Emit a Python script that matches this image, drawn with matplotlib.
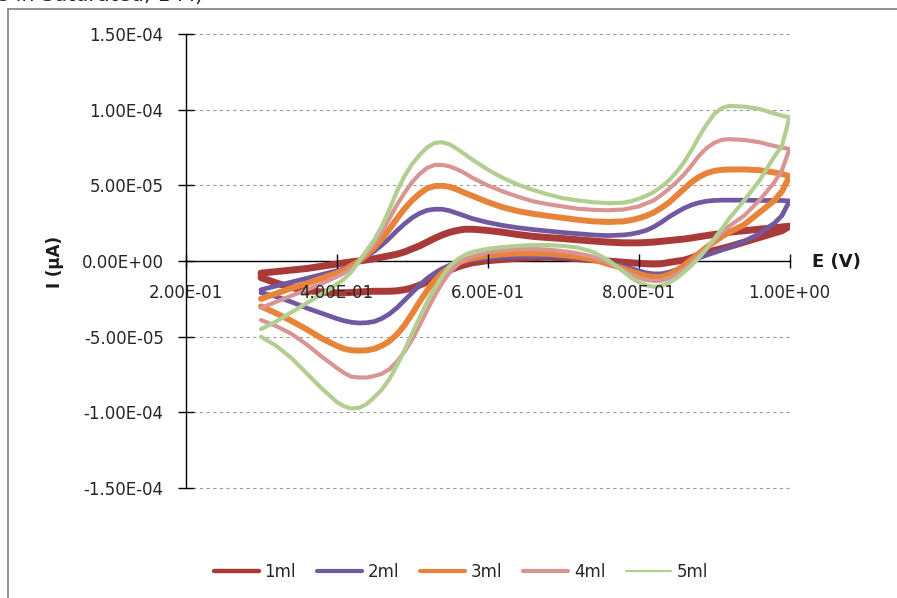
import matplotlib

matplotlib.use("Agg")
import matplotlib.pyplot as plt
from matplotlib.lines import Line2D
from matplotlib.patches import Rectangle
from matplotlib.ticker import FuncFormatter

# potential grid (V); forward scan runs left to right, reverse scan right to left
potential = [0.30, 0.32, 0.34, 0.36, 0.38, 0.40, 0.41, 0.42, 0.43, 0.44, 0.45,
             0.46, 0.47, 0.48, 0.49, 0.50, 0.51, 0.52, 0.53, 0.54, 0.55, 0.56,
             0.57, 0.58, 0.60, 0.62, 0.64, 0.66, 0.68, 0.70, 0.72, 0.74, 0.76,
             0.78, 0.79, 0.80, 0.81, 0.82, 0.83, 0.84, 0.85, 0.86, 0.87, 0.88,
             0.89, 0.90, 0.91, 0.92, 0.94, 0.96, 0.98, 0.99, 1.00]

# currents in units of 1e-5 A
fwd_1ml = [-0.8, -0.7, -0.6, -0.5, -0.35, -0.2, -0.12, -0.05, 0.0, 0.07, 0.15,
           0.25, 0.35, 0.45, 0.6, 0.8, 1.0, 1.25, 1.5, 1.72, 1.9, 2.02,
           2.1, 2.1, 2.02, 1.9, 1.75, 1.63, 1.55, 1.48, 1.4, 1.32, 1.25,
           1.2, 1.2, 1.2, 1.22, 1.25, 1.3, 1.35, 1.4, 1.45, 1.52, 1.6,
           1.68, 1.75, 1.82, 1.9, 2.0, 2.1, 2.2, 2.25, 2.3]
rev_1ml = [-1.1, -1.45, -1.75, -1.95, -2.05, -2.1, -2.1, -2.08, -2.05, -2.02, -2.0,
           -2.0, -2.0, -1.97, -1.9, -1.78, -1.6, -1.38, -1.12, -0.85, -0.6, -0.4,
           -0.25, -0.12, 0.02, 0.1, 0.18, 0.22, 0.25, 0.22, 0.15, 0.08, 0.0,
           -0.08, -0.12, -0.15, -0.18, -0.2, -0.18, -0.1, -0.02, 0.05, 0.2, 0.4,
           0.55, 0.7, 0.82, 0.95, 1.25, 1.55, 1.85, 2.0, 2.3]

fwd_2ml = [-1.9, -1.65, -1.4, -1.15, -0.9, -0.65, -0.5, -0.28, 0.0, 0.3, 0.65,
           1.05, 1.5, 2.0, 2.45, 2.85, 3.15, 3.35, 3.42, 3.42, 3.32, 3.15,
           2.98, 2.8, 2.55, 2.35, 2.2, 2.08, 1.98, 1.88, 1.8, 1.72, 1.68,
           1.72, 1.78, 1.88, 2.02, 2.25, 2.55, 2.9, 3.2, 3.48, 3.7, 3.85,
           3.95, 4.0, 4.02, 4.02, 4.02, 4.0, 4.0, 4.0, 3.97]
rev_2ml = [-2.1, -2.35, -2.7, -3.1, -3.45, -3.8, -3.95, -4.05, -4.1, -4.08, -4.0,
           -3.8, -3.5, -3.1, -2.6, -2.1, -1.6, -1.15, -0.8, -0.5, -0.28, -0.12,
           0.0, 0.08, 0.18, 0.25, 0.28, 0.3, 0.3, 0.27, 0.2, 0.08, -0.1,
           -0.35, -0.5, -0.65, -0.78, -0.85, -0.85, -0.75, -0.58, -0.35, -0.08, 0.2,
           0.38, 0.55, 0.72, 0.9, 1.3, 1.8, 2.5, 3.0, 3.97]

fwd_3ml = [-2.5, -2.15, -1.8, -1.5, -1.15, -0.8, -0.6, -0.3, 0.0, 0.4, 0.9,
           1.45, 2.1, 2.8, 3.45, 4.0, 4.45, 4.8, 4.95, 4.97, 4.9, 4.72,
           4.5, 4.3, 3.9, 3.55, 3.3, 3.12, 2.98, 2.85, 2.72, 2.62, 2.58,
           2.62, 2.7, 2.82, 2.98, 3.2, 3.5, 3.85, 4.3, 4.75, 5.2, 5.55,
           5.8, 5.95, 6.02, 6.05, 6.05, 6.0, 5.85, 5.75, 5.6]
rev_3ml = [-3.0, -3.45, -3.95, -4.5, -5.1, -5.6, -5.8, -5.9, -5.92, -5.9, -5.8,
           -5.6, -5.3, -4.85, -4.25, -3.5, -2.7, -1.95, -1.3, -0.8, -0.4, -0.12,
           0.05, 0.18, 0.35, 0.45, 0.5, 0.5, 0.48, 0.4, 0.28, 0.1, -0.2,
           -0.5, -0.68, -0.85, -0.98, -1.05, -1.05, -0.9, -0.65, -0.3, 0.1, 0.5,
           0.9, 1.25, 1.6, 1.9, 2.4, 3.2, 4.0, 4.6, 5.6]

fwd_4ml = [-3.1, -2.7, -2.3, -1.9, -1.5, -1.05, -0.8, -0.45, 0.0, 0.55, 1.15,
           1.9, 2.8, 3.7, 4.5, 5.2, 5.75, 6.15, 6.35, 6.35, 6.25, 6.05,
           5.8, 5.5, 5.0, 4.6, 4.25, 3.95, 3.75, 3.6, 3.45, 3.38, 3.35,
           3.4, 3.5, 3.6, 3.8, 4.0, 4.35, 4.75, 5.2, 5.7, 6.3, 6.95,
           7.45, 7.8, 8.0, 8.05, 8.0, 7.85, 7.6, 7.5, 7.4]
rev_4ml = [-3.9, -4.3, -4.8, -5.5, -6.3, -7.05, -7.4, -7.65, -7.7, -7.7, -7.6,
           -7.45, -7.15, -6.65, -6.0, -5.2, -4.25, -3.25, -2.3, -1.45, -0.75, -0.25,
           0.1, 0.3, 0.55, 0.7, 0.78, 0.8, 0.75, 0.65, 0.5, 0.28, -0.1,
           -0.6, -0.85, -1.1, -1.25, -1.32, -1.3, -1.15, -0.9, -0.55, -0.1, 0.35,
           0.85, 1.35, 1.85, 2.3, 3.0, 4.0, 5.2, 6.0, 7.4]

fwd_5ml = [-4.5, -4.0, -3.4, -2.8, -2.2, -1.55, -1.2, -0.7, 0.0, 0.7, 1.4,
           2.3, 3.4, 4.6, 5.6, 6.4, 7.0, 7.5, 7.8, 7.85, 7.7, 7.4,
           7.05, 6.7, 6.05, 5.5, 5.05, 4.7, 4.4, 4.15, 4.0, 3.88, 3.82,
           3.85, 3.95, 4.1, 4.3, 4.55, 4.9, 5.3, 5.85, 6.5, 7.3, 8.2,
           9.0, 9.7, 10.1, 10.25, 10.2, 10.05, 9.75, 9.6, 9.5]
rev_5ml = [-5.0, -5.6, -6.4, -7.4, -8.4, -9.3, -9.6, -9.75, -9.7, -9.45, -9.0,
           -8.5, -7.8, -6.9, -5.9, -4.8, -3.75, -2.7, -1.8, -1.0, -0.35, 0.1,
           0.4, 0.6, 0.8, 0.92, 1.0, 1.05, 1.05, 1.0, 0.88, 0.6, 0.05,
           -0.7, -1.1, -1.4, -1.6, -1.7, -1.65, -1.45, -1.15, -0.75, -0.3, 0.2,
           0.8, 1.45, 2.1, 2.8, 4.0, 5.3, 6.9, 7.6, 9.5]

series_names = ["1ml", "2ml", "3ml", "4ml", "5ml"]
forward = [fwd_1ml, fwd_2ml, fwd_3ml, fwd_4ml, fwd_5ml]
reverse = [rev_1ml, rev_2ml, rev_3ml, rev_4ml, rev_5ml]

y_ticks = [-1.5e-4, -1.0e-4, -5.0e-5, 0.0, 5.0e-5, 1.0e-4, 1.5e-4]
x_ticks = [0.2, 0.4, 0.6, 0.8, 1.0]

colors = ["#A83B39", "#7059A0", "#E8843A", "#D99594", "#B2CF91"]
line_widths = [5.0, 3.4, 4.3, 3.0, 3.0]
legend_widths = [3.2, 3.0, 3.0, 3.0, 1.6]

fig = plt.figure(figsize=(8.97, 5.98), dpi=100)
fig.patch.set_facecolor("white")

# chart-area border, cropped on the right and bottom
fig.patches.append(Rectangle((8 / 897, -0.05), 1.0, 1.05 - 9 / 598,
                             transform=fig.transFigure, fill=False,
                             edgecolor="#8a8a8a", linewidth=1.3))
# title fragment cut off by the top edge, as in the source screenshot
fig.text(-0.002, 1 - 1 / 598, "s in Saturated, 1 M)", fontsize=15,
         va="baseline", ha="left", color="#222222")

ax = fig.add_axes([185.5 / 897, 1 - 488 / 598, 604 / 897, 454 / 598])
ax.set_xlim(0.2, 1.0)
ax.set_ylim(-1.5e-4, 1.5e-4)

for name, fwd, rev, color, lw in zip(series_names, forward, reverse, colors, line_widths):
    xs = potential + potential[::-1]
    ys = [v * 1e-5 for v in fwd + rev[::-1]]
    ax.plot(xs, ys, color=color, linewidth=lw, solid_joinstyle="round",
            solid_capstyle="round", zorder=2.6)

ax.spines[["top", "right"]].set_visible(False)
ax.spines["bottom"].set_position(("data", 0))
ax.spines["left"].set_color("black")
ax.spines["bottom"].set_color("black")
ax.spines["left"].set_linewidth(1.0)
ax.spines["bottom"].set_linewidth(1.0)

ax.set_yticks(y_ticks)
ax.set_xticks(x_ticks)
sci = FuncFormatter(lambda v, pos: f"{v:.2E}")
ax.xaxis.set_major_formatter(sci)
ax.yaxis.set_major_formatter(sci)
ax.tick_params(axis="y", direction="inout", length=11.5, width=1.0, pad=10,
               labelsize=12, labelcolor="#262626")
ax.tick_params(axis="x", direction="inout", length=10.5, width=1.0, pad=11,
               labelsize=12, labelcolor="#262626")
ax.yaxis.grid(True, linestyle=(0, (3, 3)), color="#9a9a9a", linewidth=0.8)
for gridline in ax.yaxis.get_gridlines():
    gridline.set_clip_on(False)
ax.set_axisbelow(True)
# x tick labels sit on top of the curves
ax.xaxis.set_zorder(3.5)

fig.text(55 / 897, 1 - 262 / 598, "I (µA)", rotation=90, fontsize=12,
         fontweight="bold", ha="center", va="center", color="#1a1a1a")
fig.text(812 / 897, 1 - 262 / 598, "E (V)", fontsize=13, fontweight="bold",
         ha="left", va="center", color="#1a1a1a")

handles = [Line2D([], [], color=c, linewidth=w, solid_capstyle="round")
           for c, w in zip(colors, legend_widths)]
fig.legend(handles, series_names, loc="center", bbox_to_anchor=(461 / 897, 1 - 572 / 598),
           ncol=5, frameon=False, fontsize=12, handlelength=2.7, handletextpad=0.35,
           columnspacing=1.25, labelcolor="#262626")

fig.savefig("out.png", dpi=100)
